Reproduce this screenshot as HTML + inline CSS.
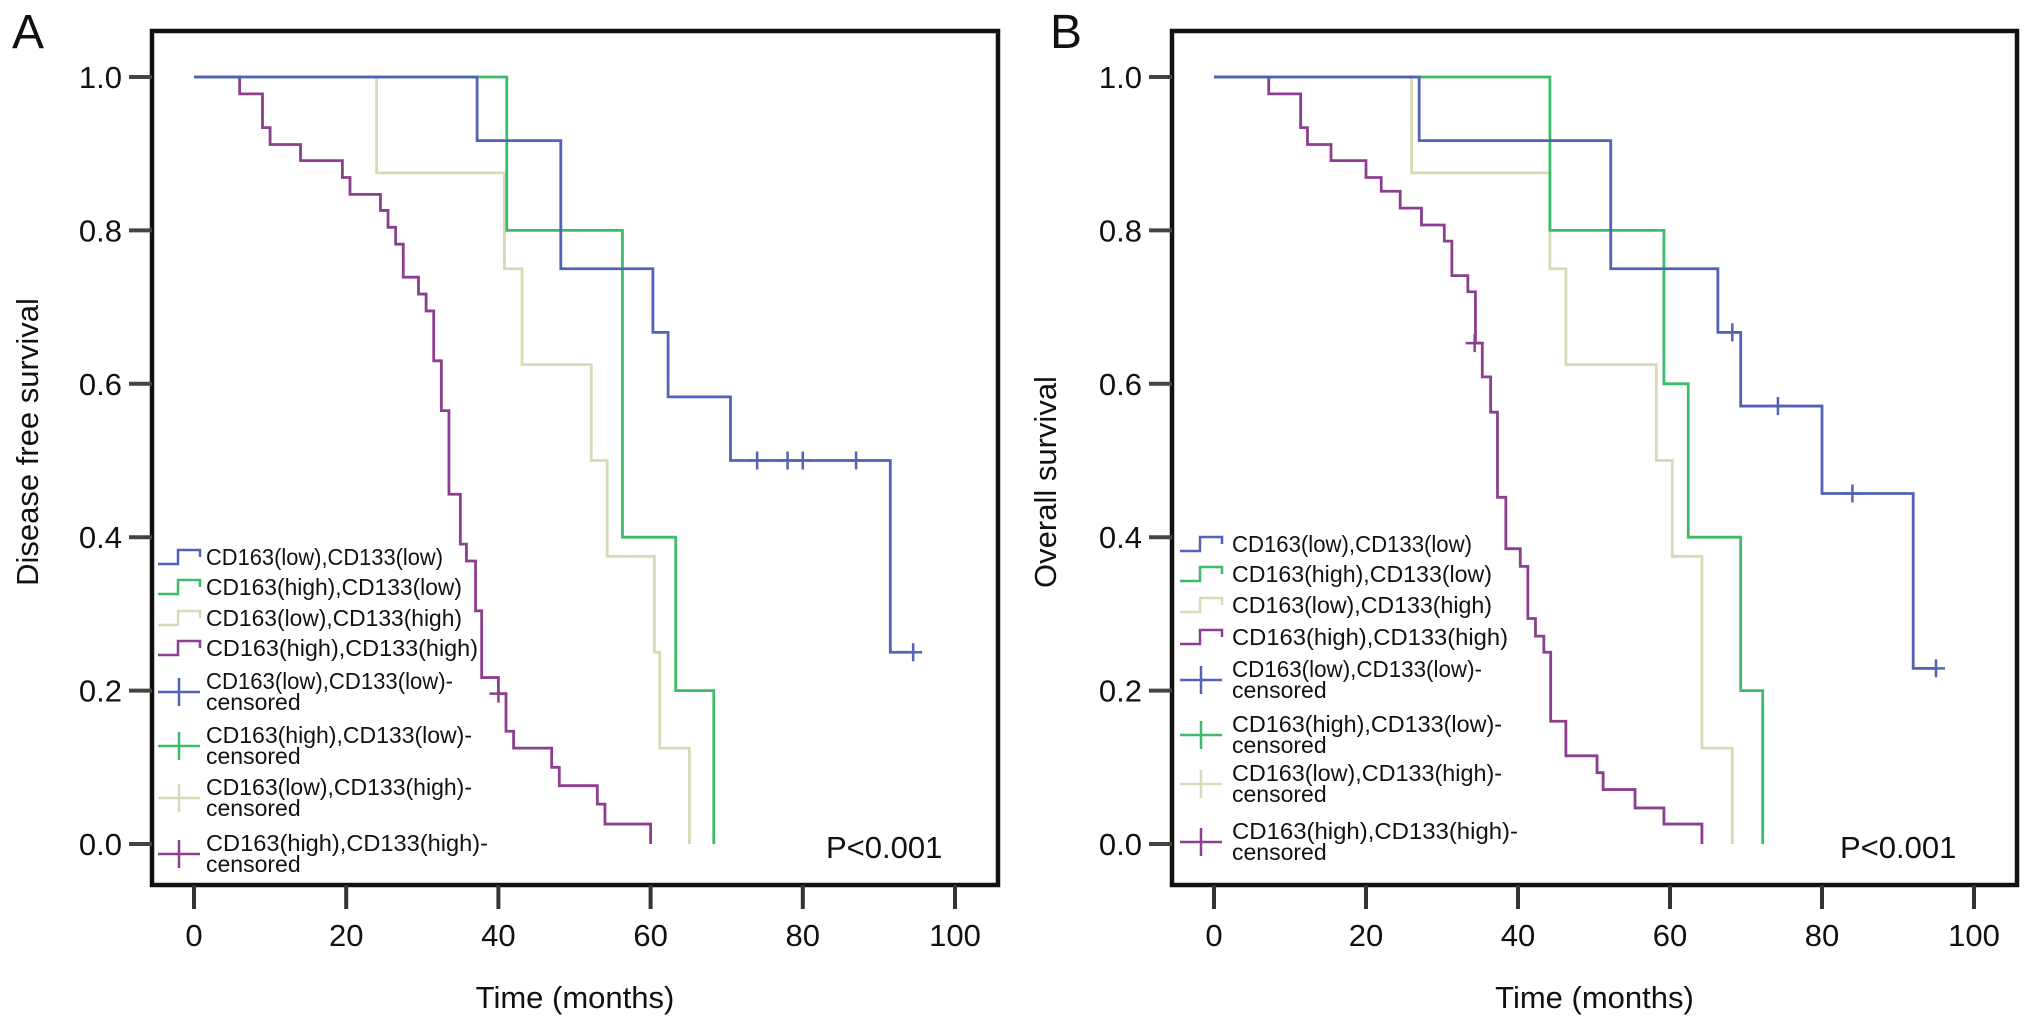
<!DOCTYPE html>
<html><head><meta charset="utf-8"><style>
html,body{margin:0;padding:0;background:#fff;}
svg{display:block;font-family:"Liberation Sans",Arial,sans-serif;}
</style></head><body>
<svg id="fig" width="2032" height="1027" viewBox="0 0 2032 1027" xmlns="http://www.w3.org/2000/svg"></svg>
<script>
// ---------- Data ----------
const xTicks = [0, 20, 40, 60, 80, 100];
const yTicks = [0.0, 0.2, 0.4, 0.6, 0.8, 1.0];
const groupNames = ["CD163(low),CD133(low)", "CD163(high),CD133(low)", "CD163(low),CD133(high)", "CD163(high),CD133(high)"];
const pValueText = "P<0.001";

// Panel A: disease free survival  [month, survival]
const aBlueTimes = [0, 37.2, 48.2, 60.3, 62.3, 70.5, 91.5];
const aBlueSurv = [1, 0.917, 0.75, 0.667, 0.583, 0.5, 0.25];
const aBlueEnd = 94.5;
const aBlueCensT = [74, 78, 80, 87, 94.5];
const aBlueCensS = [0.5, 0.5, 0.5, 0.5, 0.25];
const aGreenTimes = [0, 41.1, 56.3, 63.3, 68.3];
const aGreenSurv = [1, 0.8, 0.4, 0.2, 0];
const aBeigeTimes = [0, 24, 40.8, 43.1, 52.2, 54.3, 60.5, 61.2, 65.1];
const aBeigeSurv = [1, 0.875, 0.75, 0.625, 0.5, 0.375, 0.25, 0.125, 0];
const aPurpleTimes = [0, 6, 9, 10, 14, 19.5, 20.5, 24.5, 25.5, 26.5, 27.5, 29.5, 30.5, 31.5, 32.5, 33.5, 35, 35.8, 37, 37.8, 40, 41, 42, 47, 48, 53, 54, 60];
const aPurpleSurv = [1, 0.978, 0.934, 0.912, 0.891, 0.869, 0.847, 0.826, 0.804, 0.782, 0.739, 0.717, 0.695, 0.63, 0.565, 0.456, 0.391, 0.369, 0.304, 0.217, 0.196, 0.147, 0.125, 0.1, 0.076, 0.052, 0.026, 0];
const aPurpleCensT = [40];
const aPurpleCensS = [0.196];

// Panel B: overall survival
const bBlueTimes = [0, 27, 52.2, 66.3, 69.3, 80, 92];
const bBlueSurv = [1, 0.917, 0.75, 0.667, 0.571, 0.457, 0.229];
const bBlueEnd = 95;
const bBlueCensT = [68.2, 74.2, 84, 95];
const bBlueCensS = [0.667, 0.571, 0.457, 0.229];
const bGreenTimes = [0, 44.2, 59.2, 62.4, 69.3, 72.2];
const bGreenSurv = [1, 0.8, 0.6, 0.4, 0.2, 0];
const bBeigeTimes = [0, 26, 44.2, 46.3, 58.2, 60.3, 64.2, 68.2];
const bBeigeSurv = [1, 0.875, 0.75, 0.625, 0.5, 0.375, 0.125, 0];
const bPurpleTimes = [0, 7.2, 11.4, 12.3, 15.4, 20, 22, 24.5, 27.3, 30.3, 31.3, 33.4, 34.4, 35.3, 36.4, 37.3, 38.4, 40.3, 41.3, 42.3, 43.4, 44.3, 46.3, 50.4, 51.2, 55.4, 59.2, 64.2];
const bPurpleSurv = [1, 0.978, 0.934, 0.912, 0.891, 0.869, 0.851, 0.829, 0.807, 0.786, 0.741, 0.72, 0.653, 0.609, 0.563, 0.452, 0.385, 0.362, 0.294, 0.271, 0.25, 0.16, 0.115, 0.093, 0.071, 0.047, 0.026, 0];
const bPurpleCensT = [34.3];
const bPurpleCensS = [0.653];

// ---------- Drawing ----------
const NS = "http://www.w3.org/2000/svg";
const svg = document.getElementById("fig");
const COLORS = ["#5262b8", "#3dbb6a", "#d9d9b4", "#8b3f8e"];

function mk(tag, attrs, parent) {
  const e = document.createElementNS(NS, tag);
  for (const k in attrs) e.setAttribute(k, attrs[k]);
  (parent || svg).appendChild(e);
  return e;
}

function drawPanel(p) {
  const g = mk("g", {});
  
  
  const xs = m => p.x0 + m * p.xs;
  const ys = v => p.y0 - v * p.ys;

  // frame
  const fr = mk("rect", {x: p.fl, y: p.ft, width: p.fr - p.fl, height: p.fb - p.ft, fill: "none", stroke: "#111", "stroke-width": 4.5}, g);
  
  

  // y ticks
  yTicks.forEach(v => {
    const t = mk("line", {x1: p.fl - 23, x2: p.fl, y1: ys(v), y2: ys(v), stroke: "#444", "stroke-width": 4}, g);
    
    
    const l = mk("text", {x: p.fl - 30, y: ys(v) + 11, "text-anchor": "end", "font-size": 31, fill: "#111"}, g);
    
    
    l.textContent = v.toFixed(1);
  });
  // x ticks
  xTicks.forEach(m => {
    const t = mk("line", {x1: xs(m), x2: xs(m), y1: p.fb, y2: p.fb + 24, stroke: "#333", "stroke-width": 4}, g);
    
    
    const l = mk("text", {x: xs(m), y: 946, "text-anchor": "middle", "font-size": 31, fill: "#111"}, g);
    
    
    l.textContent = m;
  });
  // axis titles
  const xt = mk("text", {x: (p.fl + p.fr) / 2, y: 1008, "text-anchor": "middle", "font-size": 31, fill: "#111"}, g);
  
  
  xt.textContent = "Time (months)";
  const yt = mk("text", {x: 0, y: 0, "text-anchor": "middle", "font-size": 31, fill: "#111", transform: "translate(" + p.ytx + "," + p.yty + ") rotate(-90)"}, g);
  
  
  yt.textContent = p.ytitle;
  // panel letter
  const pl = mk("text", {x: p.lx, y: 48, "font-size": 48, fill: "#111"}, g);
  
  
  pl.textContent = p.letter;

  // curves
  const curves = [
    [p.blueT, p.blueS, p.blueEnd],
    [p.greenT, p.greenS, null],
    [p.beigeT, p.beigeS, null],
    [p.purpleT, p.purpleS, null]
  ];
  const order = [2, 3, 1, 0];
  order.forEach(ci => {
    const [T, S, endT] = curves[ci];
    let d = "M" + xs(T[0]) + "," + ys(S[0]);
    for (let i = 1; i < T.length; i++) {
      d += " H" + xs(T[i]) + " V" + ys(S[i]);
    }
    if (endT != null) d += " H" + xs(endT);
    const path = mk("path", {d: d, fill: "none", stroke: COLORS[ci], "stroke-width": 2.8, "stroke-linejoin": "miter"}, g);
    
    
  });
  // censor marks
  const cens = [[p.blueCT, p.blueCS, 0], [p.purpleCT, p.purpleCS, 3]];
  cens.forEach(([T, S, ci]) => {
    T.forEach((t, i) => {
      const c = mk("path", {d: "M" + (xs(t) - 9) + "," + ys(S[i]) + " h18 M" + xs(t) + "," + (ys(S[i]) - 9) + " v18", stroke: COLORS[ci], "stroke-width": 2.5, fill: "none"}, g);
      
      
    });
  });

  // legend
  const lg = mk("g", {}, g);
  
  
  const lx = p.legX, tx = p.legTX;
  groupNames.forEach((name, i) => {
    const yc = p.legRows[i];
    const sym = mk("path", {d: "M" + lx + "," + (yc + 7) + " h20 v-14 h22 v7", fill: "none", stroke: COLORS[i], "stroke-width": 2.5}, lg);
    
    
    const t = mk("text", {x: tx, y: yc + 8, "font-size": 23, fill: "#111", textLength: p.legW[i], lengthAdjust: "spacingAndGlyphs"}, lg);
    
    
    t.textContent = name;
  });
  groupNames.forEach((name, i) => {
    const yc = p.legRows[4 + i];
    const yy = yc + 11;
    const sym = mk("path", {d: "M" + lx + "," + yy + " h42 M" + (lx + 21) + "," + (yy - 14) + " v28", fill: "none", stroke: COLORS[i], "stroke-width": 2.5}, lg);
    
    
    const t = mk("text", {x: tx, y: yc + 8, "font-size": 23, fill: "#111", textLength: p.legW[i] + 10, lengthAdjust: "spacingAndGlyphs"}, lg);
    
    
    t.textContent = name + "-";
    const t2 = mk("text", {x: tx, y: yc + 29, "font-size": 23, fill: "#111"}, lg);
    
    
    t2.textContent = "censored";
  });

  const pv = mk("text", {x: p.pvx, y: 858, "font-size": 31, fill: "#111"}, g);
  
  
  pv.textContent = pValueText;
}

drawPanel({
  id: "a", letter: "A", lx: 12, ytitle: "Disease free survival", ytx: 38, yty: 442,
  fl: 152, fr: 998, ft: 31, fb: 885, x0: 194, xs: 7.61, y0: 844, ys: 767,
  blueT: aBlueTimes, blueS: aBlueSurv, blueEnd: aBlueEnd, blueCT: aBlueCensT, blueCS: aBlueCensS,
  greenT: aGreenTimes, greenS: aGreenSurv, beigeT: aBeigeTimes, beigeS: aBeigeSurv,
  purpleT: aPurpleTimes, purpleS: aPurpleSurv, purpleCT: aPurpleCensT, purpleCS: aPurpleCensS,
  legX: 158, legTX: 206, legRows: [557, 587, 618, 648, 681, 735, 787, 843], legW: [237, 256, 256, 272],
  pvx: 826
});
drawPanel({
  id: "b", letter: "B", lx: 1050, ytitle: "Overall survival", ytx: 1056, yty: 482,
  fl: 1172, fr: 2017, ft: 31, fb: 885, x0: 1214, xs: 7.6, y0: 844, ys: 767,
  blueT: bBlueTimes, blueS: bBlueSurv, blueEnd: bBlueEnd, blueCT: bBlueCensT, blueCS: bBlueCensS,
  greenT: bGreenTimes, greenS: bGreenSurv, beigeT: bBeigeTimes, beigeS: bBeigeSurv,
  purpleT: bPurpleTimes, purpleS: bPurpleSurv, purpleCT: bPurpleCensT, purpleCS: bPurpleCensS,
  legX: 1180, legTX: 1232, legRows: [544, 574, 605, 637, 669, 724, 773, 831], legW: [240, 260, 260, 276],
  pvx: 1840
});
</script>
</body></html>
